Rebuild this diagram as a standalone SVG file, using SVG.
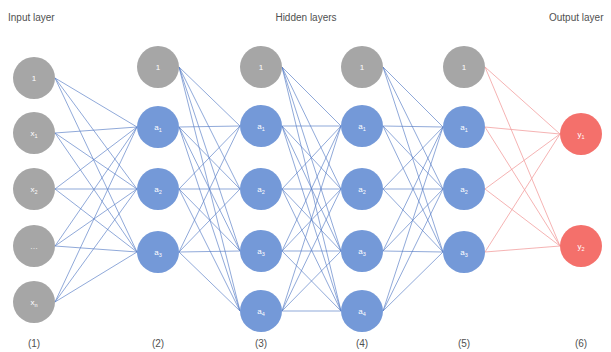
<svg xmlns="http://www.w3.org/2000/svg" width="611" height="352" viewBox="0 0 611 352">
<style>
.lbl{font-family:"Liberation Sans",Arial,sans-serif;font-size:10px;fill:#505050}
.nt{font-family:"Liberation Sans",Arial,sans-serif;font-size:8px;fill:#ffffff;text-anchor:middle}
.sub{font-size:5.5px}
.g{fill:#a6a6a6}
.b{fill:#7499d8}
.r{fill:#f4706b}
.e line{stroke:#5b7fc7;stroke-width:0.8;stroke-opacity:0.85}
.e .rl{stroke:#f2a0a0;stroke-width:0.8;stroke-opacity:1}
</style>
<rect width="611" height="352" fill="#ffffff"/>
<text class="lbl" x="8" y="21">Input layer</text>
<text class="lbl" x="306" y="21" text-anchor="middle">Hidden layers</text>
<text class="lbl" x="549" y="21">Output layer</text>
<g class="e" id="connectors">
<!-- L1 -> L2 -->
<line x1="55" y1="78" x2="137" y2="127"/><line x1="55" y1="78" x2="137" y2="189"/><line x1="55" y1="78" x2="137" y2="252"/>
<line x1="55" y1="133" x2="137" y2="127"/><line x1="55" y1="133" x2="137" y2="189"/><line x1="55" y1="133" x2="137" y2="252"/>
<line x1="55" y1="189" x2="137" y2="127"/><line x1="55" y1="189" x2="137" y2="189"/><line x1="55" y1="189" x2="137" y2="252"/>
<line x1="55" y1="246" x2="137" y2="127"/><line x1="55" y1="246" x2="137" y2="189"/><line x1="55" y1="246" x2="137" y2="252"/>
<line x1="55" y1="302" x2="137" y2="127"/><line x1="55" y1="302" x2="137" y2="189"/><line x1="55" y1="302" x2="137" y2="252"/>
<!-- L2 -> L3 -->
<line x1="179" y1="67" x2="240" y2="126"/><line x1="179" y1="67" x2="240" y2="189"/><line x1="179" y1="67" x2="240" y2="251"/><line x1="179" y1="67" x2="240" y2="311"/>
<line x1="179" y1="127" x2="240" y2="126"/><line x1="179" y1="127" x2="240" y2="189"/><line x1="179" y1="127" x2="240" y2="251"/><line x1="179" y1="127" x2="240" y2="311"/>
<line x1="179" y1="189" x2="240" y2="126"/><line x1="179" y1="189" x2="240" y2="189"/><line x1="179" y1="189" x2="240" y2="251"/><line x1="179" y1="189" x2="240" y2="311"/>
<line x1="179" y1="252" x2="240" y2="126"/><line x1="179" y1="252" x2="240" y2="189"/><line x1="179" y1="252" x2="240" y2="251"/><line x1="179" y1="252" x2="240" y2="311"/>
<!-- L3 -> L4 -->
<line x1="282" y1="67" x2="341" y2="126"/><line x1="282" y1="67" x2="341" y2="189"/><line x1="282" y1="67" x2="341" y2="251"/><line x1="282" y1="67" x2="341" y2="311"/>
<line x1="282" y1="126" x2="341" y2="126"/><line x1="282" y1="126" x2="341" y2="189"/><line x1="282" y1="126" x2="341" y2="251"/><line x1="282" y1="126" x2="341" y2="311"/>
<line x1="282" y1="189" x2="341" y2="126"/><line x1="282" y1="189" x2="341" y2="189"/><line x1="282" y1="189" x2="341" y2="251"/><line x1="282" y1="189" x2="341" y2="311"/>
<line x1="282" y1="251" x2="341" y2="126"/><line x1="282" y1="251" x2="341" y2="189"/><line x1="282" y1="251" x2="341" y2="251"/><line x1="282" y1="251" x2="341" y2="311"/>
<line x1="282" y1="311" x2="341" y2="126"/><line x1="282" y1="311" x2="341" y2="189"/><line x1="282" y1="311" x2="341" y2="251"/><line x1="282" y1="311" x2="341" y2="311"/>
<!-- L4 -> L5 -->
<line x1="383" y1="67" x2="443" y2="127"/><line x1="383" y1="67" x2="443" y2="189"/><line x1="383" y1="67" x2="443" y2="252"/>
<line x1="383" y1="126" x2="443" y2="127"/><line x1="383" y1="126" x2="443" y2="189"/><line x1="383" y1="126" x2="443" y2="252"/>
<line x1="383" y1="189" x2="443" y2="127"/><line x1="383" y1="189" x2="443" y2="189"/><line x1="383" y1="189" x2="443" y2="252"/>
<line x1="383" y1="251" x2="443" y2="127"/><line x1="383" y1="251" x2="443" y2="189"/><line x1="383" y1="251" x2="443" y2="252"/>
<line x1="383" y1="311" x2="443" y2="127"/><line x1="383" y1="311" x2="443" y2="189"/><line x1="383" y1="311" x2="443" y2="252"/>
<!-- L5 -> L6 -->
<line class="rl" x1="485" y1="67" x2="560" y2="134"/><line class="rl" x1="485" y1="67" x2="560" y2="246"/>
<line class="rl" x1="485" y1="127" x2="560" y2="134"/><line class="rl" x1="485" y1="127" x2="560" y2="246"/>
<line class="rl" x1="485" y1="189" x2="560" y2="134"/><line class="rl" x1="485" y1="189" x2="560" y2="246"/>
<line class="rl" x1="485" y1="252" x2="560" y2="134"/><line class="rl" x1="485" y1="252" x2="560" y2="246"/>
</g>
<!-- Layer 1 -->
<g id="l1-bias"><circle class="g" cx="34" cy="78" r="21"/><text class="nt" x="34" y="81">1</text></g>
<g id="l1-x1"><circle class="g" cx="34" cy="133" r="21"/><text class="nt" x="34" y="136">x<tspan class="sub" dy="2">1</tspan></text></g>
<g id="l1-x2"><circle class="g" cx="34" cy="189" r="21"/><text class="nt" x="34" y="192">x<tspan class="sub" dy="2">2</tspan></text></g>
<g id="l1-dots"><circle class="g" cx="34" cy="246" r="21"/><text class="nt" x="34" y="249">…</text></g>
<g id="l1-xn"><circle class="g" cx="34" cy="302" r="21"/><text class="nt" x="34" y="305">x<tspan class="sub" dy="2">n</tspan></text></g>
<!-- Layer 2 -->
<g id="l2-bias"><circle class="g" cx="158" cy="67" r="21"/><text class="nt" x="158" y="70">1</text></g>
<g id="l2-a1"><circle class="b" cx="158" cy="127" r="21"/><text class="nt" x="158" y="130">a<tspan class="sub" dy="2">1</tspan></text></g>
<g id="l2-a2"><circle class="b" cx="158" cy="189" r="21"/><text class="nt" x="158" y="192">a<tspan class="sub" dy="2">2</tspan></text></g>
<g id="l2-a3"><circle class="b" cx="158" cy="252" r="21"/><text class="nt" x="158" y="255">a<tspan class="sub" dy="2">3</tspan></text></g>
<!-- Layer 3 -->
<g id="l3-bias"><circle class="g" cx="261" cy="67" r="21"/><text class="nt" x="261" y="70">1</text></g>
<g id="l3-a1"><circle class="b" cx="261" cy="126" r="21"/><text class="nt" x="261" y="129">a<tspan class="sub" dy="2">1</tspan></text></g>
<g id="l3-a2"><circle class="b" cx="261" cy="189" r="21"/><text class="nt" x="261" y="192">a<tspan class="sub" dy="2">2</tspan></text></g>
<g id="l3-a3"><circle class="b" cx="261" cy="251" r="21"/><text class="nt" x="261" y="254">a<tspan class="sub" dy="2">3</tspan></text></g>
<g id="l3-a4"><circle class="b" cx="261" cy="311" r="21"/><text class="nt" x="261" y="314">a<tspan class="sub" dy="2">4</tspan></text></g>
<!-- Layer 4 -->
<g id="l4-bias"><circle class="g" cx="362" cy="67" r="21"/><text class="nt" x="362" y="70">1</text></g>
<g id="l4-a1"><circle class="b" cx="362" cy="126" r="21"/><text class="nt" x="362" y="129">a<tspan class="sub" dy="2">1</tspan></text></g>
<g id="l4-a2"><circle class="b" cx="362" cy="189" r="21"/><text class="nt" x="362" y="192">a<tspan class="sub" dy="2">2</tspan></text></g>
<g id="l4-a3"><circle class="b" cx="362" cy="251" r="21"/><text class="nt" x="362" y="254">a<tspan class="sub" dy="2">3</tspan></text></g>
<g id="l4-a4"><circle class="b" cx="362" cy="311" r="21"/><text class="nt" x="362" y="314">a<tspan class="sub" dy="2">4</tspan></text></g>
<!-- Layer 5 -->
<g id="l5-bias"><circle class="g" cx="464" cy="67" r="21"/><text class="nt" x="464" y="70">1</text></g>
<g id="l5-a1"><circle class="b" cx="464" cy="127" r="21"/><text class="nt" x="464" y="130">a<tspan class="sub" dy="2">1</tspan></text></g>
<g id="l5-a2"><circle class="b" cx="464" cy="189" r="21"/><text class="nt" x="464" y="192">a<tspan class="sub" dy="2">2</tspan></text></g>
<g id="l5-a3"><circle class="b" cx="464" cy="252" r="21"/><text class="nt" x="464" y="255">a<tspan class="sub" dy="2">3</tspan></text></g>
<!-- Layer 6 -->
<g id="l6-y1"><circle class="r" cx="581" cy="134" r="21"/><text class="nt" x="581" y="137">y<tspan class="sub" dy="2">1</tspan></text></g>
<g id="l6-y2"><circle class="r" cx="581" cy="246" r="21"/><text class="nt" x="581" y="249">y<tspan class="sub" dy="2">2</tspan></text></g>
<!-- bottom labels -->
<g class="lbl" text-anchor="middle">
<text x="34" y="347">(1)</text>
<text x="158" y="347">(2)</text>
<text x="261" y="347">(3)</text>
<text x="362" y="347">(4)</text>
<text x="464" y="347">(5)</text>
<text x="581" y="347">(6)</text>
</g>
</svg>
